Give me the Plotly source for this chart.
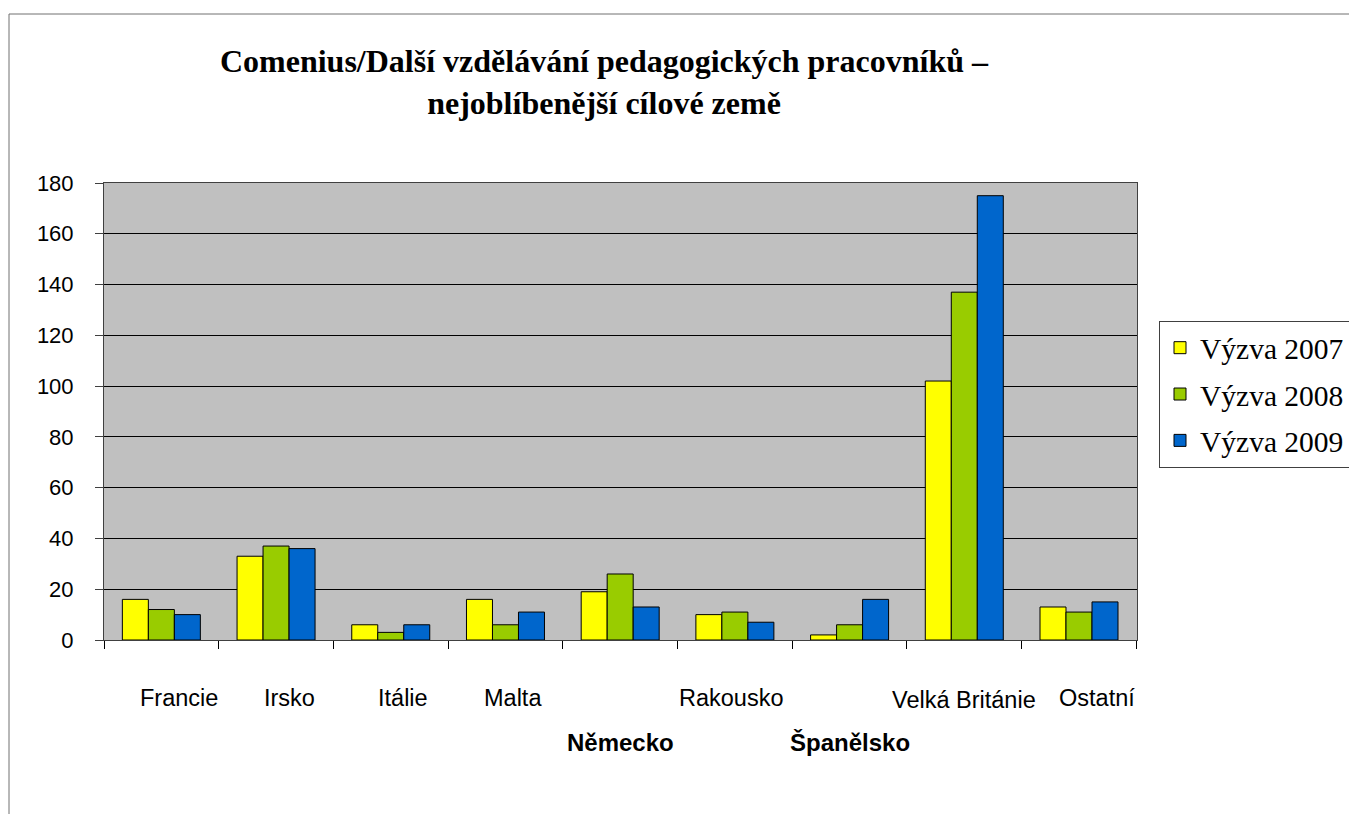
import plotly.graph_objects as go

categories = ["Francie", "Irsko", "Itálie", "Malta", "Německo", "Rakousko",
              "Španělsko", "Velká Británie", "Ostatní"]
series_names = ["Výzva 2007", "Výzva 2008", "Výzva 2009"]
v2007 = [16, 33, 6, 16, 19, 10, 2, 102, 13]
v2008 = [12, 37, 3, 6, 26, 11, 6, 137, 11]
v2009 = [10, 36, 6, 11, 13, 7, 16, 175, 15]
y_ticks = [0, 20, 40, 60, 80, 100, 120, 140, 160, 180]
title_text = ("<b>Comenius/Další vzdělávání pedagogických pracovníků –<br>"
              "nejoblíbenější cílové země</b>")

# styling
colors = ["#FFFF00", "#99CC00", "#0066CC"]
lower_labels = {"Německo", "Španělsko"}
label_xshift = [18, 13, 12, 8, 0, -3, 0, 0, 18]

W, H = 1349, 814
L, R, T, B = 104, 1137, 183, 640

fig = go.Figure()
for name, vals, col in zip(series_names, [v2007, v2008, v2009], colors):
    fig.add_trace(go.Bar(
        x=categories, y=vals, name=name, legendgroup=name,
        marker=dict(color=col, line=dict(color="#000000", width=1)),
    ))

annotations = []
for cat, dx in zip(categories, label_xshift):
    if cat in lower_labels:
        annotations.append(dict(
            x=cat, xref="x", y=0, yref="paper", yanchor="middle",
            yshift=-102, xshift=dx, showarrow=False, text="<b>" + cat + "</b>",
            font=dict(family="Liberation Sans", size=24, color="#000000")))
    else:
        annotations.append(dict(
            x=cat, xref="x", y=0, yref="paper", yanchor="middle",
            yshift=-58 - (2 if cat == "Velká Británie" else 0), xshift=dx,
            showarrow=False, text=cat,
            font=dict(family="Liberation Sans", size=23.5, color="#000000")))

pw = R - L
ph = B - T
def px2x(px):
    return (px - L) / pw
def py2y(py):
    return (B - py) / ph

shapes = [
    dict(type="line", xref="paper", yref="paper", x0=px2x(9), x1=px2x(W + 5),
         y0=py2y(14), y1=py2y(14), line=dict(color="#707070", width=1)),
    dict(type="line", xref="paper", yref="paper", x0=px2x(9), x1=px2x(9),
         y0=py2y(14), y1=py2y(H + 5), line=dict(color="#707070", width=1)),
]

fig.update_layout(
    width=W, height=H,
    margin=dict(l=L, r=W - R, t=T, b=H - B, pad=0, autoexpand=False),
    paper_bgcolor="#FFFFFF",
    plot_bgcolor="#C0C0C0",
    barmode="group",
    bargap=0.32,
    bargroupgap=0,
    title=dict(text=title_text, xref="container", yref="container",
               x=604 / W, xanchor="center", y=1 - 72 / H, yanchor="middle",
               font=dict(family="Liberation Serif", size=32, color="#000000")),
    showlegend=True,
    legend=dict(xref="container", yref="container",
                x=1159 / W, y=1 - 321 / H, xanchor="left", yanchor="top",
                bgcolor="#FFFFFF", bordercolor="#404040", borderwidth=1,
                traceorder="grouped", tracegroupgap=5,
                entrywidth=230, entrywidthmode="pixels",
                font=dict(family="Liberation Serif", size=29.5, color="#000000")),
    annotations=annotations,
    shapes=shapes,
)
fig.update_xaxes(
    type="category", showticklabels=False, ticks="outside", tickson="boundaries",
    ticklen=8, tickcolor="#000000", tickwidth=1,
    showline=True, linecolor="#404040", linewidth=1, mirror=True,
    showgrid=False, zeroline=False,
)
fig.update_yaxes(
    range=[0, 180], tickvals=y_ticks, ticks="outside", ticklen=8,
    tickcolor="#404040", tickwidth=1, ticklabelstandoff=17,
    tickfont=dict(family="Liberation Sans", size=22, color="#000000"),
    showline=True, linecolor="#404040", linewidth=1, mirror=True,
    showgrid=True, gridcolor="#000000", gridwidth=1, zeroline=False,
)

fig.write_html("out.html", config={"displayModeBar": False},
               post_script="document.body.style.margin='0';")
